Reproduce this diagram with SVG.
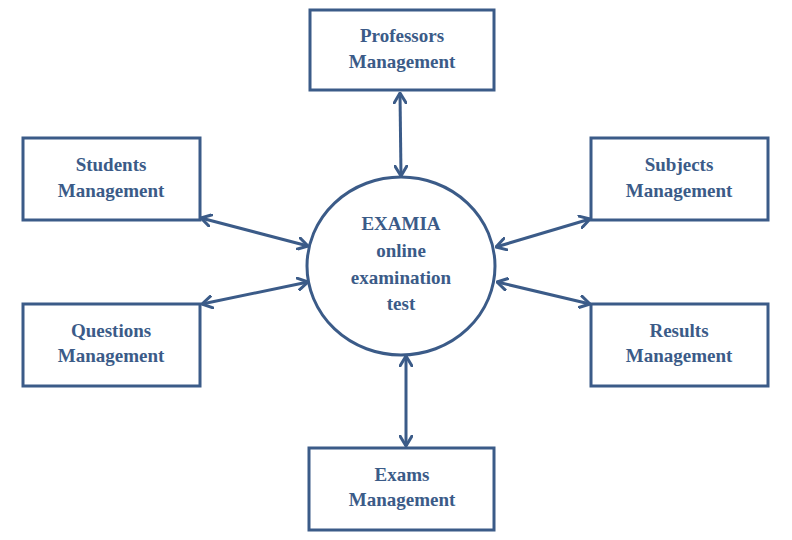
<svg xmlns="http://www.w3.org/2000/svg" width="792" height="540" viewBox="0 0 792 540">
<defs>
<style>
.box{fill:#fff;stroke:#3B5B88;stroke-width:3}
.t{font-family:"Liberation Serif","Times New Roman",serif;font-weight:bold;font-size:19px;fill:#3B5B88;text-anchor:middle}
.c{fill:none;stroke:#3B5B88;stroke-width:3}
</style>
<marker id="ah" viewBox="0 0 12 14" refX="11" refY="7" markerWidth="12" markerHeight="14" markerUnits="userSpaceOnUse" orient="auto-start-reverse">
<path d="M1,1 L11,7 L1,13" fill="none" stroke="#3B5B88" stroke-width="3" stroke-linecap="round" stroke-linejoin="round"/>
</marker>
</defs>
<rect width="792" height="540" fill="#fff"/>
<g id="connectors">
<line class="c" x1="400" y1="93" x2="401" y2="176" marker-start="url(#ah)" marker-end="url(#ah)"/>
<line class="c" x1="406" y1="356" x2="406" y2="446" marker-start="url(#ah)" marker-end="url(#ah)"/>
<line class="c" x1="201" y1="218" x2="308" y2="246" marker-start="url(#ah)" marker-end="url(#ah)"/>
<line class="c" x1="308" y1="282" x2="202" y2="304" marker-start="url(#ah)" marker-end="url(#ah)"/>
<line class="c" x1="496" y1="247" x2="590" y2="219" marker-start="url(#ah)" marker-end="url(#ah)"/>
<line class="c" x1="497" y1="282" x2="590" y2="304" marker-start="url(#ah)" marker-end="url(#ah)"/>
</g>
<g id="center">
<ellipse class="box" cx="401" cy="266" rx="94" ry="89"/>
<text class="t" x="401" y="230">EXAMIA</text>
<text class="t" x="401" y="257">online</text>
<text class="t" x="401" y="284">examination</text>
<text class="t" x="401" y="310">test</text>
</g>
<g id="professors">
<rect class="box" x="310" y="10" width="184" height="80"/>
<text class="t" x="402" y="42">Professors</text>
<text class="t" x="402" y="68">Management</text>
</g>
<g id="students">
<rect class="box" x="23" y="138" width="177" height="82"/>
<text class="t" x="111" y="171">Students</text>
<text class="t" x="111" y="197">Management</text>
</g>
<g id="questions">
<rect class="box" x="23" y="304" width="177" height="82"/>
<text class="t" x="111" y="337">Questions</text>
<text class="t" x="111" y="362">Management</text>
</g>
<g id="subjects">
<rect class="box" x="591" y="138" width="177" height="82"/>
<text class="t" x="679" y="171">Subjects</text>
<text class="t" x="679" y="197">Management</text>
</g>
<g id="results">
<rect class="box" x="591" y="304" width="177" height="82"/>
<text class="t" x="679" y="337">Results</text>
<text class="t" x="679" y="362">Management</text>
</g>
<g id="exams">
<rect class="box" x="309" y="448" width="185" height="82"/>
<text class="t" x="402" y="481">Exams</text>
<text class="t" x="402" y="506">Management</text>
</g>
</svg>
